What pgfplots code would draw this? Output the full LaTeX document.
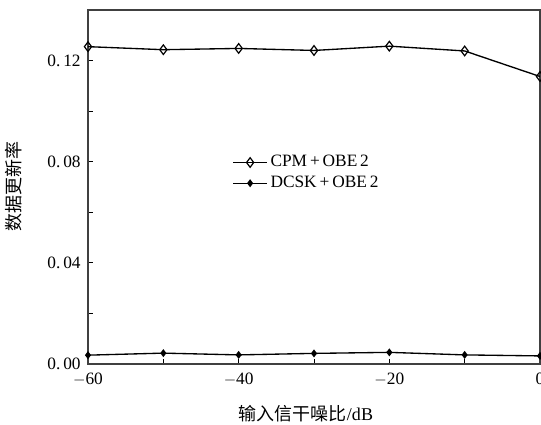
\documentclass[border=0pt]{standalone}
\usepackage{fontspec}
\setmainfont{Liberation Serif}
\newfontfamily\cjk{Noto Sans CJK SC}
\usepackage{pgfplots}
\pgfplotsset{compat=1.18}
\begin{document}
\fontsize{13}{15}\selectfont
\begin{tikzpicture}
\begin{axis}[
  scale only axis, width=339pt, height=265.5pt,
  xmin=-60, xmax=0, ymin=0, ymax=0.14,
  xtick={-60,-40,-20,0}, minor xtick={-50,-30,-10},
  xticklabels={$-$60,$-$40,$-$20,0},
  ytick={0,0.04,0.08,0.12}, minor ytick={0.02,0.06,0.10},
  yticklabels={0.\,00,0.\,04,0.\,08,0.\,12},
  tick pos=left, tick align=inside,
  major tick length=4pt, minor tick length=4pt,
  every tick/.style={black, line width=0.7pt},
  axis line style={line width=1pt, black!75},
  /pgf/number format/assume math mode=true,
  tick label style={font=\fontsize{13}{15}\selectfont},
  xticklabel style={yshift=-2pt},
  yticklabel style={xshift=-1pt},
  xlabel={{\cjk 输入信干噪比}/dB},
  ylabel={\cjk 数据更新率},
  label style={font=\fontsize{13.5}{15}\selectfont},
  xlabel style={yshift=-6pt, xshift=-6pt},
  ylabel style={yshift=10pt},
  legend style={at={(rel axis cs:0.31,0.605)}, anchor=north west, draw=none, fill=none,
    font=\fontsize{13}{15}\selectfont, row sep=1pt},
  legend image code/.code={\draw[#1] (0cm,0cm) -- (0.9cm,0cm); \draw[#1, mark repeat=2, mark phase=2] plot coordinates {(0cm,0cm) (0.45cm,0cm) (0.9cm,0cm)};},
  legend cell align=left,
  clip=false,
]
\addplot[black, line width=1pt, mark=diamond, mark size=3.6pt, mark options={solid, line width=0.9pt, fill=white}]
  coordinates {(-60,0.1255) (-50,0.1243) (-40,0.1248) (-30,0.1240) (-20,0.1257) (-10,0.1238) (0,0.1137)};
\addlegendentry{CPM\,+\,OBE\,2}
\addplot[black, line width=1pt, mark=diamond*, mark size=2.2pt, mark options={solid, fill=black}]
  coordinates {(-60,0.0035) (-50,0.0043) (-40,0.0036) (-30,0.0042) (-20,0.0046) (-10,0.0036) (0,0.0032)};
\addlegendentry{DCSK\,+\,OBE\,2}
\end{axis}
\pgfresetboundingbox
\path (-66pt,-45pt) rectangle (339.75pt,273pt);
\end{tikzpicture}
\end{document}
